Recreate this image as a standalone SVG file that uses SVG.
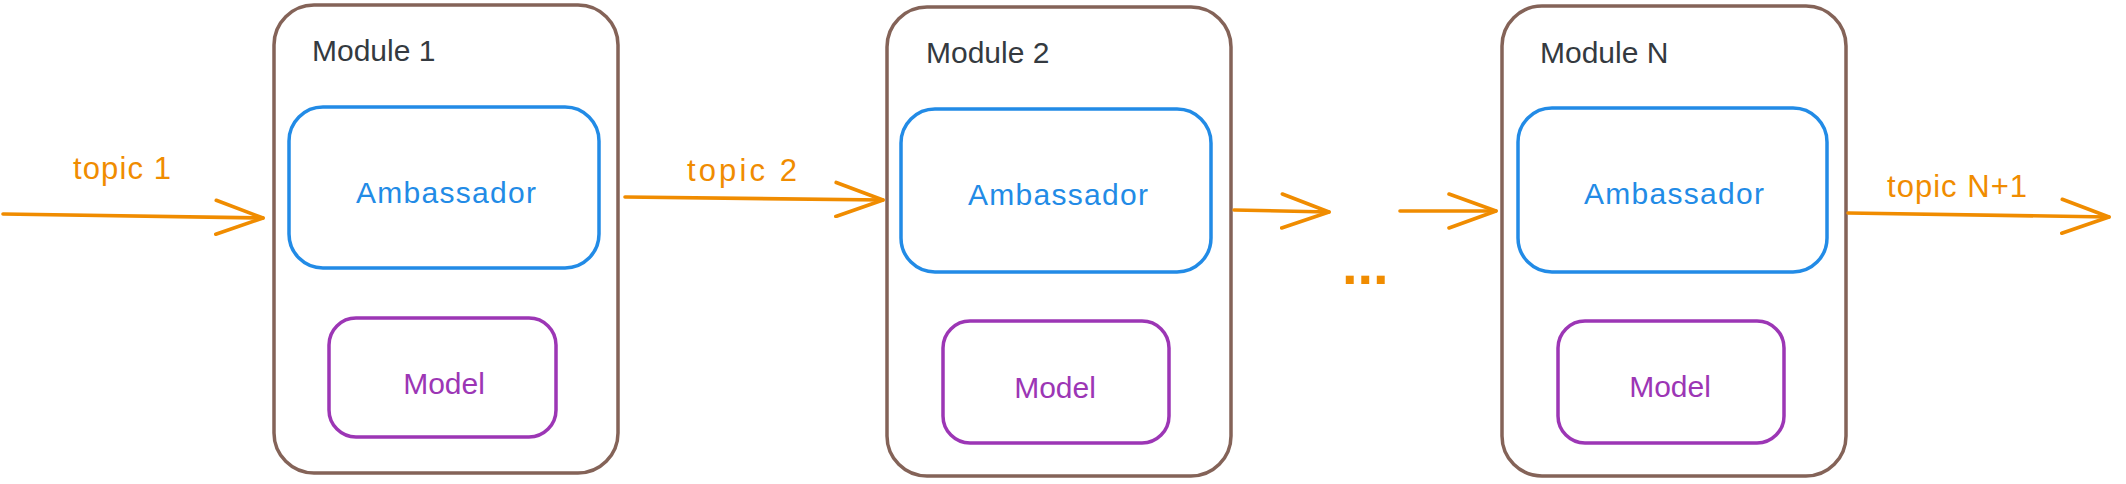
<svg xmlns="http://www.w3.org/2000/svg" width="2126" height="484" viewBox="0 0 2126 484">
<style>
.module{fill:#fff;stroke:#846358;stroke-width:3.5}
.amb{fill:none;stroke:#228be6;stroke-width:3.5}
.model{fill:none;stroke:#9c36b5;stroke-width:3.5}
.t{font-family:"Liberation Sans",Arial,sans-serif;font-size:30px}
.mt{fill:#343a40}
.at{fill:#228be6;text-anchor:middle}
.dt{fill:#9c36b5;text-anchor:middle}
.ot{fill:#f08c00;font-size:31px}
.conn{fill:none;stroke:#f08c00;stroke-width:3.6;stroke-linecap:round}
</style>
<defs>
<marker id="arr" viewBox="0 0 52 38" refX="49" refY="19" markerWidth="52" markerHeight="38" markerUnits="userSpaceOnUse" orient="auto">
<path d="M2,2 L49,19 L2,36" fill="none" stroke="#f08c00" stroke-width="3.6" stroke-linecap="round" stroke-linejoin="round"/>
</marker>
</defs>
<rect width="2126" height="484" fill="#fff"/>
<g id="module1">
<rect class="module" x="274" y="5" width="344" height="468" rx="40"/>
<text class="t mt" x="312" y="61">Module 1</text>
<g id="ambassador1">
<rect class="amb" x="289" y="107" width="310" height="161" rx="34"/>
<text class="t at" x="446" y="203" textLength="180">Ambassador</text>
</g>
<g id="model1">
<rect class="model" x="329" y="318" width="227" height="119" rx="27"/>
<text class="t dt" x="444" y="394">Model</text>
</g>
</g>
<g id="module2">
<rect class="module" x="887" y="7" width="344" height="469" rx="40"/>
<text class="t mt" x="926" y="63">Module 2</text>
<g id="ambassador2">
<rect class="amb" x="901" y="109" width="310" height="163" rx="34"/>
<text class="t at" x="1058" y="205" textLength="180">Ambassador</text>
</g>
<g id="model2">
<rect class="model" x="943" y="321" width="226" height="122" rx="27"/>
<text class="t dt" x="1055" y="398">Model</text>
</g>
</g>
<g id="moduleN">
<rect class="module" x="1502" y="6" width="344" height="470" rx="40"/>
<text class="t mt" x="1540" y="63">Module N</text>
<g id="ambassadorN">
<rect class="amb" x="1518" y="108" width="309" height="164" rx="34"/>
<text class="t at" x="1674" y="204" textLength="180">Ambassador</text>
</g>
<g id="modelN">
<rect class="model" x="1558" y="321" width="226" height="122" rx="27"/>
<text class="t dt" x="1670" y="397">Model</text>
</g>
</g>
<g id="connectors">
<path class="conn" d="M3,214 L263,218" marker-end="url(#arr)"/>
<path class="conn" d="M625,197 L883,200" marker-end="url(#arr)"/>
<path class="conn" d="M1234,210 L1329,212" marker-end="url(#arr)"/>
<path class="conn" d="M1400,211 L1496,211" marker-end="url(#arr)"/>
<path class="conn" d="M1848,213 L2109,217" marker-end="url(#arr)"/>
<text class="t ot" x="73" y="179" textLength="98">topic 1</text>
<text class="t ot" x="687" y="181" textLength="110">topic 2</text>
<text class="t ot" x="1887" y="197" textLength="140">topic N+1</text>
<text x="1342" y="284" fill="#f08c00" font-family="Liberation Sans,Arial,sans-serif" font-size="56" font-weight="bold">...</text>
</g>
</svg>
